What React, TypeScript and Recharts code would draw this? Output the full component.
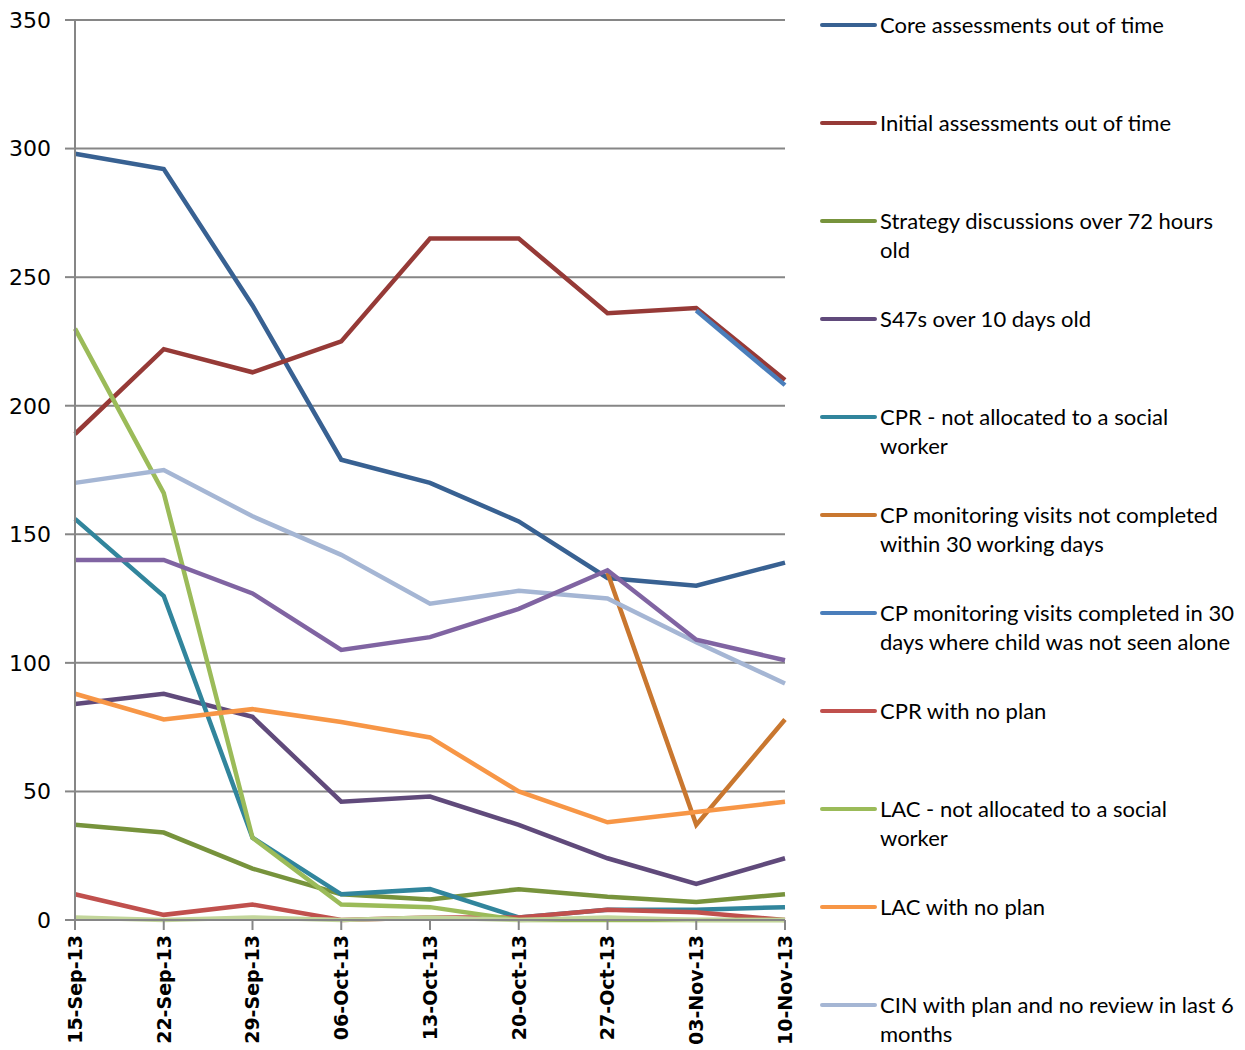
import React from 'react';
import { LineChart, Line, XAxis, YAxis, CartesianGrid } from 'recharts';

const dates = ['15-Sep-13', '22-Sep-13', '29-Sep-13', '06-Oct-13', '13-Oct-13', '20-Oct-13', '27-Oct-13', '03-Nov-13', '10-Nov-13'];

const coreAssessments = [298, 292, 239, 179, 170, 155, 133, 130, 139];
const initialAssessments = [189, 222, 213, 225, 265, 265, 236, 238, 210];
const strategyDiscussions = [37, 34, 20, 10, 8, 12, 9, 7, 10];
const s47s = [84, 88, 79, 46, 48, 37, 24, 14, 24];
const cprNotAllocated = [156, 126, 32, 10, 12, 1, 4, 4, 5];
const cpVisitsNotCompleted = [null, null, null, null, null, null, 135, 37, 78];
const cpVisitsNotAlone = [null, null, null, null, null, null, null, 237, 208];
const cprNoPlan = [10, 2, 6, 0, 1, 1, 4, 3, 0];
const lacNotAllocated = [230, 166, 32, 6, 5, 0, 0, 0, 0];
const lacNoPlan = [88, 78, 82, 77, 71, 50, 38, 42, 46];
const cinNoReview = [170, 175, 157, 142, 123, 128, 125, 108, 92];
// two more series are plotted but their legend entries are cut off in the original
const extraPurple = [140, 140, 127, 105, 110, 121, 136, 109, 101];
const extraPaleGreen = [1, 0, 1, 0, 1, 0, 1, 0, 0];

const yTicks = [0, 50, 100, 150, 200, 250, 300, 350];

const series = [
  { key: 'core', name: 'Core assessments out of time', values: coreAssessments, color: '#386192', lines: ['Core assessments out of time'] },
  { key: 'initial', name: 'Initial assessments out of time', values: initialAssessments, color: '#963a37', lines: ['Initial assessments out of time'] },
  { key: 'strategy', name: 'Strategy discussions over 72 hours old', values: strategyDiscussions, color: '#77933c', lines: ['Strategy discussions over 72 hours', 'old'] },
  { key: 's47', name: 'S47s over 10 days old', values: s47s, color: '#604a7b', lines: ['S47s over 10 days old'] },
  { key: 'cprAlloc', name: 'CPR - not allocated to a social worker', values: cprNotAllocated, color: '#31859c', lines: ['CPR - not allocated to a social', 'worker'] },
  { key: 'cpNot', name: 'CP monitoring visits not completed within 30 working days', values: cpVisitsNotCompleted, color: '#c9772f', lines: ['CP monitoring visits not completed', 'within 30 working days'] },
  { key: 'cpAlone', name: 'CP monitoring visits completed in 30 days where child was not seen alone', values: cpVisitsNotAlone, color: '#4a7ebb', lines: ['CP monitoring visits completed in 30', 'days where child was not seen alone'] },
  { key: 'cprPlan', name: 'CPR with no plan', values: cprNoPlan, color: '#c0504d', lines: ['CPR with no plan'] },
  { key: 'lacAlloc', name: 'LAC - not allocated to a social worker', values: lacNotAllocated, color: '#9bbb59', lines: ['LAC - not allocated to a social', 'worker'] },
  { key: 'lacPlan', name: 'LAC with no plan', values: lacNoPlan, color: '#f79646', lines: ['LAC with no plan'] },
  { key: 'cin', name: 'CIN with plan and no review in last 6 months', values: cinNoReview, color: '#a5b6d4', lines: ['CIN with plan and no review in last 6', 'months'] },
  { key: 'extra1', name: 'Series 12', values: extraPurple, color: '#8064a2', lines: [] as string[] },
  { key: 'extra2', name: 'Series 13', values: extraPaleGreen, color: '#c3d69b', lines: [] as string[] },
];

const data = dates.map((d, i) => {
  const row: Record<string, any> = { date: d };
  series.forEach((s) => { row[s.key] = s.values[i]; });
  return row;
});

const DateTick = (props: any) => {
  const { x, y, payload } = props;
  return (
    <g transform={`translate(${x},${y})`}>
      <text transform="rotate(-90)" x={-3} dy="0.36em" textAnchor="end" fill="#000" fontSize={19} fontWeight="bold" fontFamily="DejaVu Sans">
        {payload.value}
      </text>
    </g>
  );
};

const App: React.FC = () => {
  const legendItems = series.filter((s) => s.lines.length > 0);
  return (
    <div style={{ position: 'absolute', left: 0, top: 0, width: 1245, height: 1050, background: 'white' }}>
      <LineChart width={800} height={1050} data={data} margin={{ top: 20, right: 15, left: 0, bottom: 0 }}>
        <CartesianGrid vertical={false} stroke="#868686" strokeWidth={2} />
        <XAxis
          dataKey="date"
          interval={0}
          height={130}
          tick={<DateTick />}
          tickSize={10}
          stroke="#868686"
          strokeWidth={2}
        />
        <YAxis
          domain={[0, 350]}
          ticks={yTicks}
          width={75}
          tickSize={10}
          tickMargin={14}
          stroke="#868686"
          strokeWidth={2}
          tick={{ fill: '#000', fontSize: 22, fontFamily: 'DejaVu Sans' }}
        />
        {series.map((s) => (
          <Line
            key={s.key}
            dataKey={s.key}
            name={s.name}
            stroke={s.color}
            strokeWidth={4.5}
            dot={false}
            type="linear"
            isAnimationActive={false}
          />
        ))}
      </LineChart>
      {legendItems.map((s, i) => (
        <div key={s.key} style={{ position: 'absolute', left: 820, top: 10 + i * 98, fontFamily: 'Lato', fontSize: 22, lineHeight: '29px', color: '#000' }}>
          <div style={{ position: 'absolute', left: 0, top: 13, width: 57, height: 4, borderRadius: 2, background: s.color }} />
          <div style={{ marginLeft: 60, whiteSpace: 'nowrap' }}>
            {s.lines.map((l, j) => (
              <div key={j}>{l}</div>
            ))}
          </div>
        </div>
      ))}
    </div>
  );
};

export default App;
